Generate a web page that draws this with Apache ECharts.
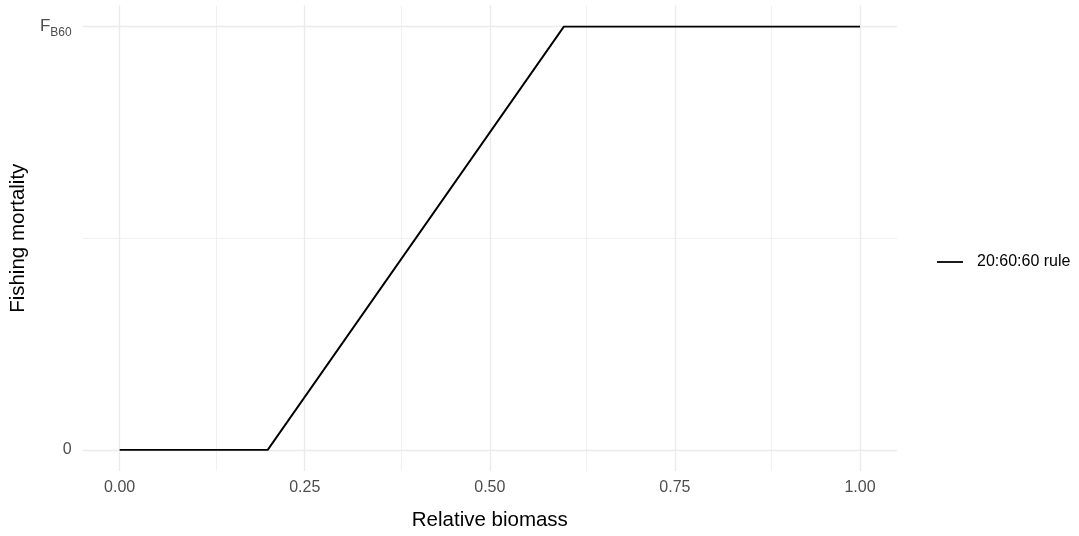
<!DOCTYPE html>
<html><head><meta charset="utf-8">
<script src="https://cdn.jsdelivr.net/npm/echarts@6/dist/echarts.min.js"></script>
<style>html,body{margin:0;padding:0;background:#fff}#c{width:1079px;height:536px}</style>
</head><body><div id="c"></div>
<script>
const seriesName = '20:60:60 rule';
const biomass = [0.0, 0.2, 0.6, 1.0];
const mortality = [0, 0, 1, 1];
const xTicks = [0, 0.25, 0.5, 0.75, 1.0];
const xTickLabels = ['0.00', '0.25', '0.50', '0.75', '1.00'];
const xMinor = [0.125, 0.375, 0.625, 0.875];
const yTicks = [0, 1];
const yTickLabels = ['0', 'F_B60'];
const yMinor = [0.5];

const chart = echarts.init(document.getElementById('c'), null, {renderer: 'canvas'});
const font = 'Liberation Sans, Arial, sans-serif';
const gridColor = '#ebebeb';
const markData = [];
xTicks.forEach(v => markData.push({xAxis: v, lineStyle: {color: gridColor, width: 1.4, type: 'solid'}}));
xMinor.forEach(v => markData.push({xAxis: v, lineStyle: {color: gridColor, width: 0.7, type: 'solid'}}));
yTicks.forEach(v => markData.push({yAxis: v, lineStyle: {color: gridColor, width: 1.4, type: 'solid'}}));
yMinor.forEach(v => markData.push({yAxis: v, lineStyle: {color: gridColor, width: 0.7, type: 'solid'}}));

chart.setOption({
  animation: false,
  backgroundColor: '#fff',
  textStyle: {fontFamily: font},
  grid: {left: 79, right: 182, top: 5.5, bottom: 57.5, containLabel: false},
  legend: {
    orient: 'vertical', left: 932, top: 248,
    data: [{name: seriesName, icon: 'rect'}],
    itemWidth: 26, itemHeight: 1.8, itemGap: 6,
    textStyle: {fontFamily: font, fontSize: 16, color: '#000', lineHeight: 18, padding: [0, 0, 0, 9]}
  },
  xAxis: {
    type: 'value', min: -0.05, max: 1.05,
    name: 'Relative biomass', nameLocation: 'middle', nameGap: 39,
    nameTextStyle: {fontFamily: font, fontSize: 20.5, color: '#000'},
    axisLine: {show: false}, axisTick: {show: false},
    splitLine: {show: false},
    axisLabel: {
      customValues: xTicks, margin: 9,
      fontFamily: font, fontSize: 16, color: '#4d4d4d',
      formatter: v => { const i = xTicks.findIndex(t => Math.abs(t - v) < 1e-9); return i >= 0 ? xTickLabels[i] : ''; }
    }
  },
  yAxis: {
    type: 'value', min: -0.05, max: 1.05,
    name: 'Fishing mortality', nameLocation: 'middle', nameGap: 49, nameRotate: 90,
    nameTextStyle: {fontFamily: font, fontSize: 20.5, color: '#000'},
    axisLine: {show: false}, axisTick: {show: false},
    splitLine: {show: false},
    axisLabel: {
      customValues: yTicks, margin: 11,
      fontFamily: font, fontSize: 16, color: '#4d4d4d',
      formatter: v => {
        const i = yTicks.findIndex(t => Math.abs(t - v) < 1e-9);
        if (i < 0) return '';
        const s = yTickLabels[i];
        if (s.indexOf('_') >= 0) { const p = s.split('_'); return '{m|' + p[0] + '}{s|' + p[1] + '}'; }
        return s;
      },
      rich: {
        m: {fontFamily: font, fontSize: 17, color: '#4d4d4d', verticalAlign: 'bottom', lineHeight: 20, padding: [0, 0, 2, 0]},
        s: {fontFamily: font, fontSize: 12, color: '#4d4d4d', verticalAlign: 'top', padding: [10, 0, 0, 0], lineHeight: 14}
      }
    }
  },
  series: [
    {
      name: 'grid', type: 'line', data: [], silent: true,
      markLine: {silent: true, symbol: ['none', 'none'], label: {show: false}, animation: false, data: markData},
      z: 1
    },
    {
      name: seriesName, type: 'line', showSymbol: false, symbol: 'none',
      data: biomass.map((b, i) => [b, mortality[i]]),
      lineStyle: {color: '#000', width: 1.9}, itemStyle: {color: '#000'}, z: 5
    }
  ]
});
</script></body></html>
